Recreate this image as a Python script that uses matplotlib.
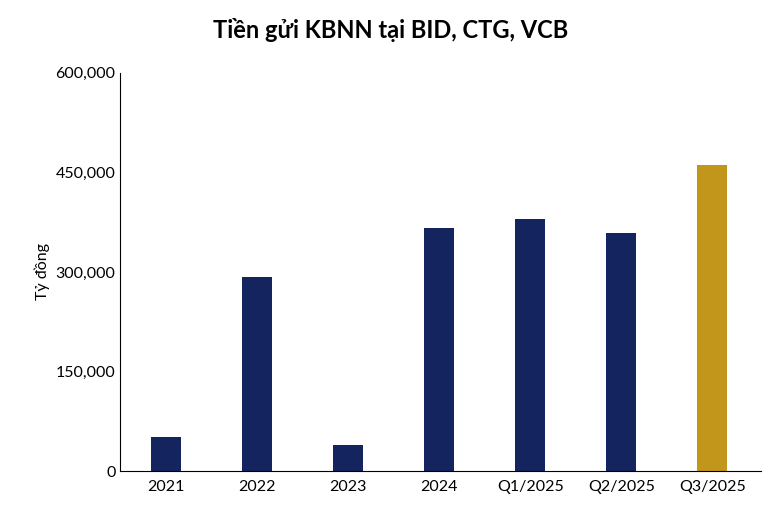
import matplotlib
matplotlib.use("Agg")
import matplotlib.pyplot as plt
from matplotlib.ticker import FuncFormatter

categories = ["2021", "2022", "2023", "2024", "Q1/2025", "Q2/2025", "Q3/2025"]
values = [51000, 292500, 39000, 366000, 380000, 359000, 461000]
colors = ["#14245E"] * 6 + ["#C1961A"]

plt.rcParams["font.family"] = ["Lato", "DejaVu Sans"]

fig = plt.figure(figsize=(7.81, 5.18), dpi=100)
ax = fig.add_axes([0.154, 0.09, 0.82, 0.77])
ax.bar(range(len(categories)), values, width=0.33, color=colors)
ax.set_xticks(range(len(categories)))
ax.set_xticklabels(categories, fontsize=11.5)
ax.set_xlim(-0.5, len(categories) - 0.47)
ax.set_ylim(0, 600000)
ax.set_yticks([0, 150000, 300000, 450000, 600000])
ax.yaxis.set_major_formatter(FuncFormatter(lambda v, _: f"{v:,.0f}"))
ax.tick_params(axis="y", labelsize=11.5, length=0)
ax.tick_params(axis="x", length=0, pad=6)
for s in ["top", "right"]:
    ax.spines[s].set_visible(False)
ax.spines["left"].set_color("black")
ax.spines["bottom"].set_color("black")
ax.set_ylabel("Tỷ đồng", fontsize=11.5)
fig.suptitle("Tiền gửi KBNN tại BID, CTG, VCB", fontsize=17, fontweight="bold", y=0.965)
fig.savefig("out.png")
